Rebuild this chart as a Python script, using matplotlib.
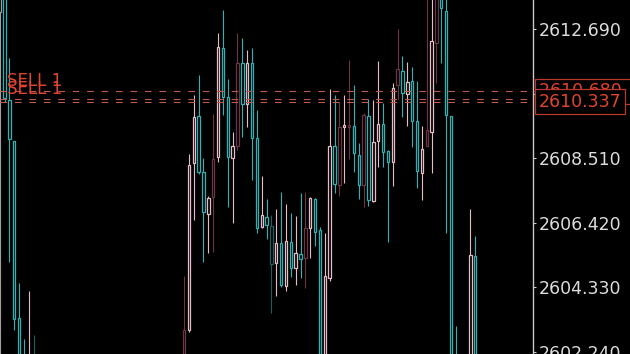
import matplotlib
matplotlib.use('Agg')
import matplotlib.pyplot as plt
from matplotlib.patches import Rectangle
from matplotlib.transforms import blended_transform_factory

# bar number (time index); bars 7-36 and 94-95 sit below the visible range
bars = [-1, 0, 1, 2, 3, 4, 5, 6,
        37, 38, 39, 40, 41, 42, 43, 44, 45, 46,
        47, 48, 49, 50, 51, 52, 53, 54, 55, 56,
        57, 58, 59, 60, 61, 62, 63, 64, 65, 66,
        67, 68, 69, 70, 71, 72, 73, 74, 75, 76,
        77, 78, 79, 80, 81, 82, 83, 84, 85, 86,
        87, 88, 89, 90, 91, 92, 93, 96, 97]

opens = [2613.24, 2614.30, 2610.39, 2609.06, 2603.33, 2601.90, 2601.30, 2602.00,
         2601.80, 2602.94, 2608.35, 2609.87, 2608.06, 2606.70, 2607.25, 2608.54, 2612.07, 2610.49,
         2608.51, 2608.90, 2611.59, 2610.26, 2611.59, 2609.16, 2606.27, 2606.60, 2606.31, 2605.11,
         2605.76, 2604.36, 2605.79, 2604.95, 2605.40, 2605.27, 2606.24, 2607.18, 2606.18, 2601.80,
         2604.62, 2608.90, 2607.64, 2609.51, 2609.51, 2609.55, 2608.61, 2607.64, 2609.87, 2607.12,
         2609.06, 2609.61, 2608.74, 2608.38, 2610.88, 2611.33, 2610.58, 2611.01, 2609.71, 2608.02,
         2608.90, 2609.35, 2612.24, 2613.90, 2613.27, 2609.87, 2601.90, 2601.50, 2605.33]

highs = [2614.50, 2614.50, 2611.75, 2609.06, 2604.46, 2602.65, 2604.20, 2602.78,
         2604.69, 2608.64, 2610.55, 2611.20, 2608.51, 2607.28, 2609.94, 2612.56, 2613.31, 2611.07,
         2609.35, 2612.56, 2612.40, 2612.01, 2612.07, 2610.07, 2607.93, 2607.18, 2606.66, 2606.86,
         2607.41, 2607.02, 2606.73, 2606.63, 2607.38, 2607.41, 2607.25, 2607.21, 2606.27, 2606.08,
         2610.75, 2610.55, 2610.33, 2610.55, 2611.69, 2610.88, 2609.00, 2609.97, 2610.42, 2610.39,
         2611.65, 2610.29, 2608.77, 2610.94, 2612.69, 2611.82, 2611.62, 2611.46, 2611.01, 2609.55,
         2614.00, 2614.10, 2614.20, 2614.10, 2614.00, 2609.87, 2603.07, 2606.86, 2605.98]

lows = [2601.50, 2610.33, 2605.14, 2602.94, 2601.60, 2601.00, 2601.00, 2601.10,
        2601.60, 2602.87, 2606.50, 2607.99, 2605.14, 2605.43, 2605.46, 2608.38, 2609.90, 2606.92,
        2606.40, 2608.77, 2609.19, 2609.51, 2607.80, 2606.08, 2606.24, 2605.89, 2603.49, 2604.04,
        2604.33, 2604.20, 2604.65, 2604.40, 2604.62, 2604.30, 2605.27, 2605.66, 2601.60, 2601.50,
        2604.52, 2607.38, 2607.28, 2607.70, 2608.48, 2608.06, 2607.18, 2606.92, 2606.95, 2607.08,
        2608.22, 2608.22, 2605.79, 2607.60, 2610.42, 2609.84, 2609.55, 2608.87, 2607.54, 2607.15,
        2608.90, 2608.02, 2610.94, 2611.59, 2606.08, 2601.20, 2600.80, 2601.20, 2601.50]

closes = [2614.20, 2610.45, 2609.13, 2603.29, 2601.90, 2601.20, 2602.00, 2601.40,
          2602.94, 2608.28, 2609.84, 2608.06, 2606.76, 2607.21, 2608.48, 2612.11, 2610.49, 2608.54,
          2608.90, 2611.59, 2610.26, 2611.59, 2609.16, 2606.24, 2606.66, 2606.34, 2605.08, 2605.76,
          2604.40, 2605.82, 2604.95, 2605.43, 2605.24, 2606.24, 2607.21, 2606.11, 2601.90, 2604.69,
          2608.90, 2607.67, 2609.51, 2609.58, 2609.58, 2608.67, 2607.64, 2609.90, 2607.15, 2609.03,
          2609.61, 2608.70, 2608.38, 2610.78, 2611.39, 2610.62, 2610.97, 2609.71, 2608.09, 2608.80,
          2609.42, 2612.30, 2613.90, 2613.37, 2609.90, 2601.50, 2601.00, 2605.37, 2601.80]

dim_bars = [6, 37, 43, 48, 55, 62, 69, 71, 74, 81, 87, 89]
grey_bars = [-1]

price_ticks = [2602.240, 2604.330, 2606.420, 2608.510, 2610.600, 2612.690]
sell_levels = [2610.68, 2610.42]
sell_labels = ['SELL 1', 'SELL 1']
level_tags = [2610.68, 2610.337]
last_price = 2610.337

TEAL = '#2bb3b6'
PINK = '#e6bcc6'
DIM_TEAL = '#1b5e60'
DIM_PINK = '#6e3642'
GREY = '#a0a0a0'
RED = '#e0442f'
LINE_RED = '#bd5a50'

assert len(bars) == len(opens) == len(highs) == len(lows) == len(closes)

fig = plt.figure(figsize=(6.3, 3.54), dpi=100, facecolor='black')
ax = fig.add_axes([0, 0, 533 / 630, 1])
ax.set_facecolor('black')

w = 0.5
for i, o, h, l, c in zip(bars, opens, highs, lows, closes):
    up = c >= o
    if i in grey_bars:
        col = GREY
    elif i in dim_bars:
        col = DIM_PINK if up else DIM_TEAL
    else:
        col = PINK if up else TEAL
    ax.vlines(i, l, h, color=col, lw=0.8, zorder=2)
    ax.add_patch(Rectangle((i - w / 2, min(o, c)), w, abs(c - o),
                           facecolor='black', edgecolor=col, lw=0.9, zorder=2))

for lev in sell_levels + [last_price]:
    ax.axhline(lev, color=LINE_RED, lw=0.8, ls=(0, (6, 7)), zorder=3)

mixed = blended_transform_factory(ax.transAxes, ax.transData)
for lev, lab in zip(sell_levels, sell_labels):
    ax.text(0.013, lev + 0.03, lab, transform=mixed, color=RED, fontsize=12,
            va='bottom', ha='left', zorder=4)

# price tags on the axis; the upper one sits mostly under the last-price tag
for k, lev in enumerate(level_tags):
    txt = f'{lev:.3f}' + ('     ' if k == 0 else '')
    ax.text(1.0105, lev, txt, transform=mixed, color=RED, fontsize=12.5,
            va='center', ha='left', clip_on=False, zorder=10 + k,
            bbox=dict(boxstyle='square,pad=0.2', facecolor='black',
                      edgecolor='#b8382a', lw=0.9))

ax.set_xlim(-0.93, 108.9)
ax.set_ylim(2602.16, 2613.63)
ax.set_yticks(price_ticks)
ax.set_yticklabels([f'{t:.3f}' for t in price_ticks])
ax.yaxis.tick_right()
ax.tick_params(axis='y', length=2.5, width=0.8, color='#cccccc', pad=2,
               labelsize=12.5, labelcolor='#dcdcdc')
ax.set_xticks([])
for side in ['top', 'bottom', 'left']:
    ax.spines[side].set_visible(False)
ax.spines['right'].set_color('#c8c8c8')
ax.spines['right'].set_linewidth(1)

fig.savefig('out.png', dpi=100, facecolor='black')
